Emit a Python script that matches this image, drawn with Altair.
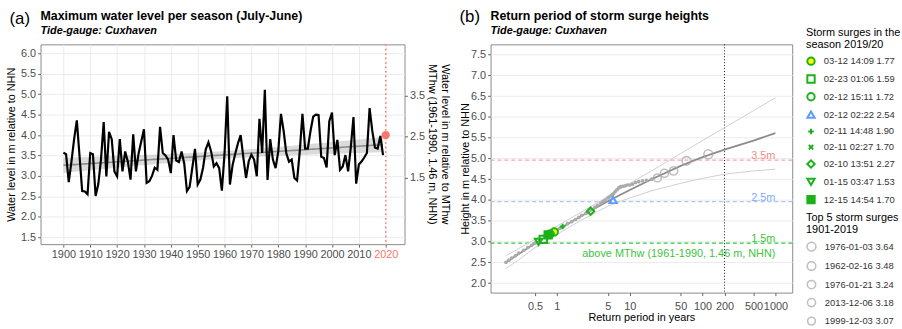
import altair as alt
import numpy as np
import pandas as pd

# ---------------- data: panel (a) ----------------
years = list(range(1900, 2020))
max_level = [
    3.57, 3.53, 2.85, 3.35, 3.90, 4.36, 3.50, 2.63, 2.62, 2.55,
    3.56, 3.53, 2.51, 2.80, 3.40, 4.32, 2.99, 4.08, 3.90, 3.11,
    2.99, 3.90, 3.11, 3.60, 3.35, 2.91, 4.02, 3.11, 3.55, 3.85,
    4.14, 2.83, 2.87, 3.00, 3.20, 3.15, 4.20, 3.56, 3.50, 3.40,
    3.07, 4.00, 3.38, 3.34, 3.60, 3.30, 2.63, 2.73, 3.20, 3.66,
    2.79, 2.91, 3.20, 3.65, 3.82, 3.60, 3.23, 3.31, 3.19, 2.64,
    3.55, 4.95, 2.79, 3.27, 3.55, 3.80, 4.00, 3.45, 2.95, 3.36,
    3.52, 3.40, 2.99, 4.40, 3.56, 5.11, 2.90, 3.90, 3.40, 3.19,
    3.60, 4.52, 4.10, 3.55, 3.35, 3.40, 2.95, 2.89, 3.60, 4.52,
    3.67, 3.67, 4.10, 4.45, 4.50, 4.49, 3.47, 3.44, 3.21, 4.34,
    4.55, 3.51, 3.88, 3.15, 3.23, 3.51, 3.11, 3.70, 4.44, 2.81,
    3.28, 3.35, 3.45, 3.56, 4.66, 4.10, 3.69, 3.67, 3.98, 3.51,
]
season_year = [2020]
season_level = [4.00]
mthw_offset = 1.46
right_ticks_a = [1.5, 2.5, 3.5]
right_title_a = ["Water level in m relative to MThw", "MThw (1961-1990, 1.46 m, NHN)"]
x_ticks_a = list(range(1900, 2021, 10))
y_ticks_a = [1.5, 2.0, 2.5, 3.0, 3.5, 4.0, 4.5, 5.0, 5.5, 6.0]

# ---------------- data: panel (b) ----------------
rp_grid = [0.2, 0.3, 0.5, 1, 2, 5, 10, 20, 50, 100, 200, 500, 1000]
fit_h = [2.50, 2.70, 2.95, 3.27, 3.58, 3.97, 4.24, 4.50, 4.82, 5.03, 5.21, 5.43, 5.61]
upper_h = [2.66, 2.83, 3.05, 3.37, 3.67, 4.08, 4.40, 4.70, 5.12, 5.43, 5.74, 6.15, 6.46]
lower_h = [2.35, 2.56, 2.85, 3.17, 3.48, 3.85, 4.05, 4.22, 4.40, 4.52, 4.62, 4.70, 4.74]

obs_T = [20, 17, 15, 13.3, 12, 10.9, 10, 9.2, 8.6, 8, 7.5, 7.1, 6.7, 6.3, 6, 5.7, 5.5,
         5.2, 5, 4.6, 4.3, 4, 3.6, 3.3, 3, 2.7, 2.5, 2.2, 2, 1.8, 1.6, 1.4, 1.2, 1.1,
         1.0, 0.9, 0.8, 0.7, 0.6, 0.5, 0.45, 0.4, 0.35, 0.3, 0.27, 0.24, 0.22, 0.2]
obs_h = [4.50, 4.47, 4.46, 4.44, 4.42, 4.38, 4.36, 4.36, 4.34, 4.33, 4.32, 4.30, 4.25,
         4.20, 4.15, 4.12, 4.10, 4.07, 4.05, 4.00, 3.96, 3.92, 3.87, 3.82, 3.77, 3.72,
         3.68, 3.63, 3.58, 3.53, 3.48, 3.43, 3.36, 3.32, 3.28, 3.23, 3.17, 3.11, 3.04,
         2.96, 2.91, 2.86, 2.79, 2.72, 2.66, 2.60, 2.55, 2.50]

top5_labels = ["1976-01-03 3.64", "1962-02-16 3.48", "1976-01-21 3.24",
               "2013-12-06 3.18", "1999-12-03 3.07"]
top5_T = [120, 60, 40, 30, 24]
top5_mthw = [3.64, 3.48, 3.24, 3.18, 3.07]

season_labels = ["03-12 14:09 1.77", "02-23 01:06 1.59", "02-12 15:11 1.72",
                 "02-12 02:22 2.54", "02-11 14:48 1.90", "02-11 02:27 1.70",
                 "02-10 13:51 2.27", "01-15 03:47 1.53", "12-15 14:54 1.70"]
season_T = [0.92, 0.65, 0.81, 5.9, 1.2, 0.78, 2.9, 0.56, 0.76]
season_mthw = [1.77, 1.59, 1.72, 2.54, 1.90, 1.70, 2.27, 1.53, 1.70]

threshold_mthw = [3.5, 2.5, 1.5]
threshold_labels = ["3.5m", "2.5m", "1.5m"]
return_level_mark = [200]

# ---------------- styles ----------------
FONT = "Liberation Sans"
RED = "#F8766D"
GREEN = "#19B219"
BLUE = "#5E9BFF"
GRID = "#EBEBEB"
TXT = "#4D4D4D"

# ---------------- panel (a) ----------------
yr = np.array(years, dtype=float)
lv = np.array(max_level, dtype=float)
n = len(yr)
b, a = np.polyfit(yr, lv, 1)
resid = lv - (a + b * yr)
s = np.sqrt(np.sum(resid ** 2) / (n - 2))
sxx = np.sum((yr - yr.mean()) ** 2)
se = s * np.sqrt(1 / n + (yr - yr.mean()) ** 2 / sxx)
tq = 1.98
df_a = pd.DataFrame({"year": years, "level": max_level,
                     "fit": a + b * yr, "lo": a + b * yr - tq * se, "hi": a + b * yr + tq * se})
df_season = pd.DataFrame({"year": season_year, "level": season_level})
df_right_a = pd.DataFrame({"mthw": right_ticks_a})

ydom_a = [1.33, 6.22]
xscale_a = alt.Scale(domain=[1891.5, 2027], nice=False, zero=False)
yscale_a = alt.Scale(domain=ydom_a, nice=False, zero=False)
xaxis_a = alt.Axis(values=x_ticks_a, format="d", title=None, labelOverlap=False,
                   labelColor=alt.condition("datum.value == 2020", alt.value(RED), alt.value(TXT)))
yaxis_a = alt.Axis(values=y_ticks_a, format=".1f", title="Water level in m relative to NHN",
                   labelOverlap=False)


def xa(field="year"):
    return alt.X(field + ":Q", scale=xscale_a, axis=xaxis_a)


def ya(field):
    return alt.Y(field + ":Q", scale=yscale_a, axis=yaxis_a)


band = alt.Chart(df_a).mark_area(color="#BDBDBD", opacity=0.55).encode(
    x=xa(), y=ya("lo"), y2="hi:Q")
trend = alt.Chart(df_a).mark_line(color="#8C8C8C", strokeWidth=1.6).encode(x=xa(), y=ya("fit"))
line = alt.Chart(df_a).mark_line(color="black", strokeWidth=2.2).encode(x=xa(), y=ya("level"))
vrule = alt.Chart(df_season).mark_rule(color=RED, strokeDash=[1.5, 3], strokeWidth=1.5).encode(x=xa())
pt = alt.Chart(df_season).mark_circle(color=RED, size=70, opacity=1).encode(x=xa(), y=ya("level"))
tag_a = alt.Chart(df_season).mark_text(text="(a)", fontSize=17, font=FONT, color="black").encode(
    x=alt.value(-21), y=alt.value(-26))
rt1 = alt.Chart(df_season).mark_text(text=right_title_a[0], angle=90, fontSize=11, font=FONT,
                                     color="black").encode(x=alt.value(409), y=alt.value(101))
rt2 = alt.Chart(df_season).mark_text(text=right_title_a[1], angle=90, fontSize=11, font=FONT,
                                     color="black").encode(x=alt.value(396), y=alt.value(101))

inner_a = alt.layer(band, trend, line, vrule, pt, tag_a, rt1, rt2)
sec_a = alt.Chart(df_right_a).mark_point(opacity=0).encode(
    y=alt.Y("mthw:Q",
            scale=alt.Scale(domain=[ydom_a[0] - mthw_offset, ydom_a[1] - mthw_offset], nice=False, zero=False),
            axis=alt.Axis(orient="right", values=right_ticks_a, format=".1f", grid=False, title=None)))
chart_a = alt.layer(inner_a, sec_a).resolve_scale(y="independent").properties(
    width=368, height=202,
    title=alt.TitleParams(text="Maximum water level per season (July-June)",
                          subtitle="Tide-gauge: Cuxhaven", anchor="start", frame="group",
                          fontSize=12.5, font=FONT, fontWeight="bold", subtitleFont=FONT,
                          subtitleFontSize=11, subtitleFontWeight="bold", subtitleFontStyle="italic",
                          subtitleColor="black", offset=-27, subtitlePadding=3))

# ---------------- panel (b) ----------------
df_curve = pd.DataFrame({"T": rp_grid, "fit": fit_h, "upper": upper_h, "lower": lower_h})
df_obs = pd.DataFrame({"T": obs_T, "h": obs_h})
df_top5 = pd.DataFrame({"T": top5_T, "h": [v + mthw_offset for v in top5_mthw], "label": top5_labels})
df_seas = pd.DataFrame({"T": season_T, "h": [v + mthw_offset for v in season_mthw], "label": season_labels})
df_thr = pd.DataFrame({"h": [v + mthw_offset for v in threshold_mthw], "label": threshold_labels,
                       "mthw": threshold_mthw,
                       "line": ["#F7A8A8", "#A8C6FF", "#2ECC40"],
                       "tcol": ["#F48C86", "#7FA9FF", "#3CC43C"]})
df_mark = pd.DataFrame({"T": return_level_mark})

xlog_vals = [0.2, 0.3, 0.4, 0.5, 0.6, 0.7, 0.8, 0.9, 1, 2, 3, 4, 5, 6, 7, 8, 9, 10,
             20, 30, 40, 50, 60, 70, 80, 90, 100, 200, 300, 400, 500, 600, 700, 800, 900, 1000]
shown = "[0.5,1,5,10,50,100,200,500,1000]"
xscale_b = alt.Scale(type="log", domain=[0.123, 1700], nice=False)
ydom_b = [1.77, 7.745]
yscale_b = alt.Scale(domain=ydom_b, nice=False, zero=False)
xaxis_b = alt.Axis(values=xlog_vals, title="Return period in years",
                   labelExpr="indexof(" + shown + ", datum.value) >= 0 ? toString(datum.value) : ''",
                   tickOpacity=alt.condition("indexof(" + shown + ", datum.value) >= 0",
                                             alt.value(1), alt.value(0)),
                   labelOverlap=False, labelFlush=False, labelPadding=5, titlePadding=0)
yaxis_b = alt.Axis(values=[2.0, 2.5, 3.0, 3.5, 4.0, 4.5, 5.0, 5.5, 6.0, 6.5, 7.0, 7.5],
                   format=".1f", title="Height in m relative to NHN", labelOverlap=False,
                   titlePadding=0)


def xb(field="T"):
    return alt.X(field + ":Q", scale=xscale_b, axis=xaxis_b)


def yb(field):
    return alt.Y(field + ":Q", scale=yscale_b, axis=yaxis_b)


thr_rules = alt.Chart(df_thr).mark_rule(strokeDash=[4, 3], strokeWidth=1.4).encode(
    y=yb("h"), color=alt.Color("line:N", scale=None))
thr_text = alt.Chart(df_thr).mark_text(align="right", dy=-4, fontSize=11, font=FONT).encode(
    x=alt.datum(1000, scale=xscale_b, axis=xaxis_b), y=yb("h"), text="label:N",
    color=alt.Color("tcol:N", scale=None))
above_text = alt.Chart(df_thr).transform_filter("datum.mthw == 1.5").mark_text(
    align="right", dy=11, fontSize=11, font=FONT, color="#3CC43C",
    text="above MThw (1961-1990, 1.46 m, NHN)").encode(
    x=alt.datum(1000, scale=xscale_b, axis=xaxis_b), y=yb("h"))
vmark = alt.Chart(df_mark).mark_rule(color="black", strokeDash=[1, 2], strokeWidth=0.9).encode(x=xb())
up_line = alt.Chart(df_curve).mark_line(color="#CFCFCF", strokeWidth=1).encode(x=xb(), y=yb("upper"))
lo_line = alt.Chart(df_curve).mark_line(color="#CFCFCF", strokeWidth=1).encode(x=xb(), y=yb("lower"))
fit_line = alt.Chart(df_curve).mark_line(color="#8C8C8C", strokeWidth=1.8).encode(x=xb(), y=yb("fit"))
obs_pts = alt.Chart(df_obs).mark_circle(color="#ABABAB", size=14, opacity=1).encode(x=xb(), y=yb("h"))
top_pts = alt.Chart(df_top5).mark_point(filled=False, color="#A6A6A6", strokeWidth=1.6).encode(
    x=xb(), y=yb("h"),
    size=alt.Size("label:N", scale=alt.Scale(domain=top5_labels, range=[80, 62, 36, 24, 15]),
                  legend=alt.Legend(title=["Top 5 storm surges", "1901-2019"], orient="none",
                                    legendX=319, legendY=170, symbolStrokeColor="#A6A6A6",
                                    symbolStrokeWidth=1.6, rowPadding=2.7, titlePadding=6)))
plus_path = "M-0.75,0L0.75,0M0,-0.75L0,0.75"
x_path = "M-0.6,-0.6L0.6,0.6M-0.6,0.6L0.6,-0.6"
shapes = ["circle", "square", "circle", "triangle-up", plus_path, x_path, "diamond",
          "triangle-down", "square"]
fills = ["#FFFF00", "transparent", "transparent", "transparent", "transparent", "transparent",
         "transparent", "transparent", GREEN]
strokes = [GREEN, GREEN, GREEN, BLUE, GREEN, GREEN, GREEN, GREEN, GREEN]
seas_legend = alt.Legend(title=["Storm surges in the", "season 2019/20"], orient="none",
                         legendX=319, legendY=-17, symbolStrokeWidth=2, rowPadding=2,
                         titlePadding=6)
seas_pts = alt.Chart(df_seas).mark_point(strokeWidth=2, size=55, opacity=1).encode(
    x=xb(), y=yb("h"),
    shape=alt.Shape("label:N", scale=alt.Scale(domain=season_labels, range=shapes), legend=seas_legend),
    fill=alt.Fill("label:N", scale=alt.Scale(domain=season_labels, range=fills), legend=seas_legend),
    stroke=alt.Stroke("label:N", scale=alt.Scale(domain=season_labels, range=strokes), legend=seas_legend))
tag_b = alt.Chart(df_mark).mark_text(text="(b)", fontSize=17, font=FONT, color="black").encode(
    x=alt.value(-21), y=alt.value(-28))

chart_b = alt.layer(thr_rules, thr_text, above_text, vmark, up_line, lo_line, fit_line,
                    obs_pts, top_pts, seas_pts, tag_b).properties(
    width=305, height=251,
    title=alt.TitleParams(text="Return period of storm surge heights",
                          subtitle="Tide-gauge: Cuxhaven", anchor="start", frame="group",
                          fontSize=12.5, font=FONT, fontWeight="bold", subtitleFont=FONT,
                          subtitleFontSize=11, subtitleFontWeight="bold", subtitleFontStyle="italic",
                          subtitleColor="black", offset=-29, subtitlePadding=3))

chart = alt.hconcat(chart_a, chart_b, spacing=7).resolve_legend(
    shape="independent", fill="independent", stroke="independent", size="independent"
).configure_view(
    stroke="#8A8A8A", strokeWidth=1
).configure_axis(
    labelFont=FONT, titleFont=FONT, labelFontSize=11, titleFontSize=11, labelColor=TXT,
    titleColor="black", titleFontWeight="normal", gridColor=GRID, gridWidth=1,
    tickColor="#666666", tickSize=3, domain=False, labelPadding=2
).configure_legend(
    labelFont=FONT, titleFont=FONT, labelFontSize=9.5, titleFontSize=11, titleFontWeight="normal",
    labelColor="#333333", titleColor="black", symbolSize=55, titleLineHeight=12, labelOffset=8,
    padding=0
).properties(padding={"left": 5, "right": 0, "top": 5, "bottom": 3})

chart.save("out.html", embed_options={"renderer": "svg", "actions": False})
